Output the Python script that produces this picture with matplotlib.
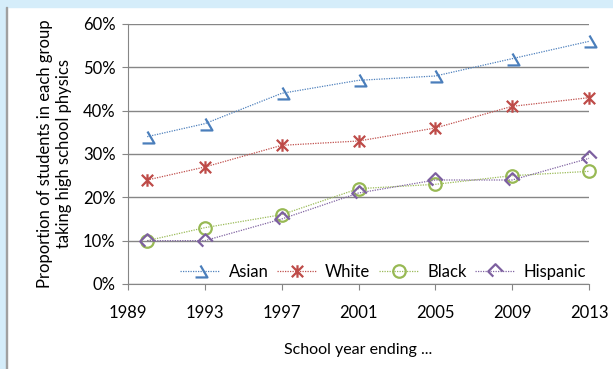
import matplotlib
matplotlib.use('Agg')
import matplotlib.pyplot as plt
from matplotlib.path import Path
from matplotlib.patches import Rectangle
from matplotlib.ticker import PercentFormatter

plt.rcParams['font.family'] = ['Lato', 'DejaVu Sans']

years = [1990, 1993, 1997, 2001, 2005, 2009, 2013]
asian = [34, 37, 44, 47, 48, 52, 56]
white = [24, 27, 32, 33, 36, 41, 43]
black = [10, 13, 16, 22, 23, 25, 26]
hispanic = [10, 10, 15, 21, 24, 24, 29]
x_ticks = [1989, 1993, 1997, 2001, 2005, 2009, 2013]

# odd half-drawn markers, like the original export
asian_marker = Path([(0, 6), (7, -6), (-5, -6)],
                    [Path.MOVETO, Path.LINETO, Path.LINETO])
white_marker = Path([(-1, -1), (1, 1), (-1, 1), (1, -1), (0, -1.1), (0, 1.1)],
                    [Path.MOVETO, Path.LINETO, Path.MOVETO, Path.LINETO,
                     Path.MOVETO, Path.LINETO])
hisp_marker = Path([(1, 0), (0, 1), (-1, 0), (-0.3, -0.7)],
                   [Path.MOVETO, Path.LINETO, Path.LINETO, Path.LINETO])

fig = plt.figure(figsize=(6.13, 3.69), dpi=100)
fig.patches.append(Rectangle((0, 0), 6 / 613, 1, transform=fig.transFigure,
                             color='#D5EDFA', zorder=0))
fig.patches.append(Rectangle((0, 1 - 7 / 369), 1, 7 / 369, transform=fig.transFigure,
                             color='#D5EDFA', zorder=0))
fig.patches.append(Rectangle((6 / 613, 0), 1 / 613, 1 - 7 / 369, transform=fig.transFigure,
                             color='#A0A0A0', zorder=1))

ax = fig.add_axes([128 / 613, 85 / 369, 461 / 613, 260 / 369])

ls = (0, (1, 1))
common = dict(linestyle=ls, linewidth=0.9, markerfacecolor='none',
              markeredgewidth=1.6, clip_on=False)
ax.plot(years, asian, color='#4F81BD', marker=asian_marker, markersize=10,
        markeredgecolor='#4A7EBB', label='Asian', **common)
ax.plot(years, white, color='#C0504D', marker=white_marker, markersize=9,
        markeredgecolor='#BE4B48', label='White', **common)
ax.plot(years, black, color='#9BBB59', marker='o', markersize=9,
        markeredgecolor='#98B954', label='Black', **common)
ax.plot(years, hispanic, color='#8064A2', marker=hisp_marker, markersize=10.5,
        markeredgecolor='#7D60A0', label='Hispanic', **common)

ax.set_xlim(1989, 2013)
ax.set_ylim(0, 60)
ax.set_xticks(x_ticks)
ax.set_yticks(range(0, 61, 10))
ax.yaxis.set_major_formatter(PercentFormatter(decimals=0))
ax.grid(axis='y', color='#868686', linewidth=1)
ax.set_axisbelow(True)
for side in ['top', 'right']:
    ax.spines[side].set_visible(False)
for side in ['left', 'bottom']:
    ax.spines[side].set_color('#868686')
ax.tick_params(axis='both', colors='#868686', labelcolor='black',
               labelsize=12, length=4)
ax.tick_params(axis='x', pad=11)
ax.tick_params(axis='y', pad=5)

ax.set_xlabel('School year ending ...', fontsize=11.5, labelpad=16)
ax.set_ylabel('Proportion of students in each group\ntaking high school physics',
              fontsize=12, labelpad=8, linespacing=1.25)

ax.legend(loc='center', bbox_to_anchor=(0.553, 0.046), ncol=4, frameon=False,
          fontsize=12, handlelength=2.4, columnspacing=0.5, handletextpad=0.5,
          borderpad=0, borderaxespad=0)

fig.savefig('out.png', dpi=100)
